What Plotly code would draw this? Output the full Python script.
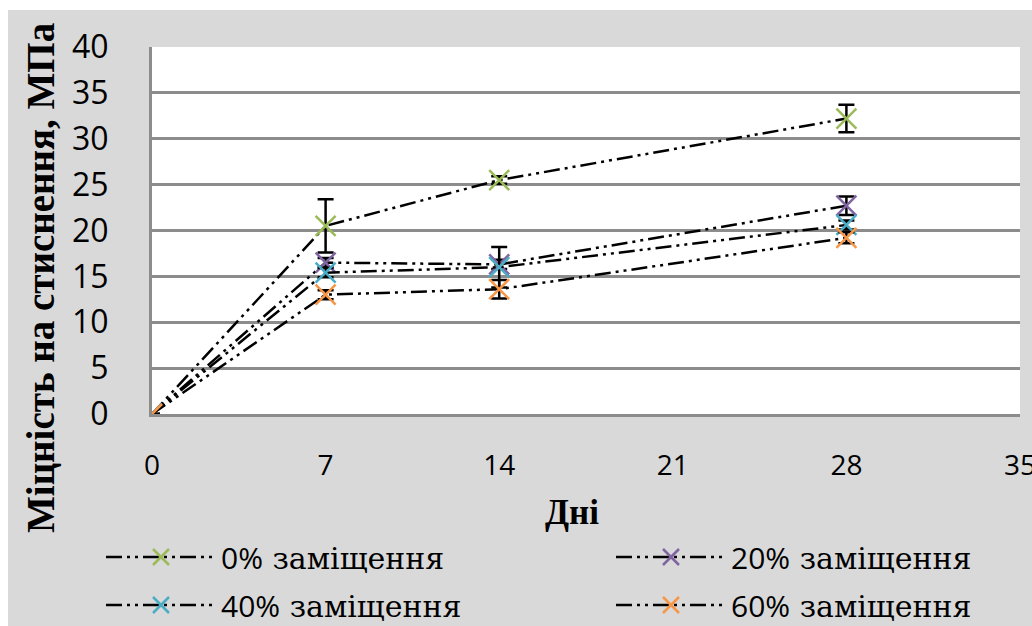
import plotly.graph_objects as go

# Compressive strength of mixes vs. curing age
days = [0, 7, 14, 28]

labels = ["0%", "20%", "40%", "60%"]
strength_0 = [0, 20.5, 25.5, 32.2]
strength_20 = [0, 16.5, 16.3, 22.7]
strength_40 = [0, 15.4, 16.0, 20.6]
strength_60 = [0, 13.0, 13.6, 19.2]

error_0 = [0, 2.9, 0.4, 1.5]
error_20 = [0, 0.5, 0.5, 1.0]
error_40 = [0, 0.5, 2.2, 0.5]
error_60 = [0, 0.5, 1.0, 0.6]

x_ticks = [0, 7, 14, 21, 28, 35]
y_ticks = [0, 5, 10, 15, 20, 25, 30, 35, 40]

colors = ["#9bbb59", "#8064a2", "#4bacc6", "#f79646"]
series = [strength_0, strength_20, strength_40, strength_60]
errors = [error_0, error_20, error_40, error_60]

SANS = "Open Sans"
SERIF = "Liberation Serif"
WIDE_SERIF = "DejaVu Serif"

L, R, T, B = 152, 12, 47, 212
W, H = 1032, 626
pw, ph = W - L - R, H - T - B


def px_x(p):
    return (p - L) / pw


def px_y(p):
    return (H - B - p) / ph


# one legend box per entry, laid out as a 2x2 grid below the axes
legend_ids = ["legend", "legend2", "legend3", "legend4"]
legend_pos = [(101, 557), (611, 557), (101, 605), (611, 605)]

fig = go.Figure()
for name, ys, errs, col, lid in zip(labels, series, errors, colors, legend_ids):
    fig.add_trace(go.Scatter(
        x=days, y=ys,
        mode="lines+markers",
        name=(f'<span style="font-family:{SANS}">{name}</span>'
              f'<span style="font-family:{WIDE_SERIF}"> заміщення</span>'),
        legend=lid,
        line=dict(color="black", width=2.5, dash="16px,5px,3px,5px,3px,5px"),
        marker=dict(symbol="x-thin-open", size=20, color=col,
                    line=dict(color=col, width=2.5)),
        error_y=dict(type="data", array=errs, visible=True,
                     color="black", thickness=2.5, width=8),
    ))

legend_style = dict(
    xanchor="left", yanchor="middle", itemwidth=110,
    font=dict(family=WIDE_SERIF, size=30, color="black"),
    bgcolor="rgba(0,0,0,0)", borderwidth=0,
)
legend_layout = {}
for lid, (lx, ly) in zip(legend_ids, legend_pos):
    legend_layout[lid] = dict(x=px_x(lx), y=px_y(ly), **legend_style)

fig.update_layout(
    width=W, height=H,
    margin=dict(l=L, r=R, t=T, b=B, autoexpand=False),
    paper_bgcolor="white",
    plot_bgcolor="white",
    showlegend=True,
    shapes=[
        dict(type="rect", xref="paper", yref="paper", layer="below",
             x0=px_x(8), x1=px_x(W + 2), y0=px_y(H + 2), y1=px_y(10),
             fillcolor="#d9d9d9", line=dict(width=0)),
        dict(type="rect", xref="paper", yref="paper", layer="below",
             x0=0, x1=1, y0=0, y1=1,
             fillcolor="white", line=dict(width=0)),
    ],
    xaxis=dict(
        range=[0, 35], tickvals=x_ticks, showgrid=False, zeroline=False,
        showline=True, linecolor="#8c8c8c", linewidth=3,
        tickfont=dict(family=SANS, size=28, color="black"),
        ticklabelstandoff=24, ticklabeloverflow="allow",
    ),
    yaxis=dict(
        range=[0, 40], tickvals=y_ticks, showgrid=True, gridcolor="#8c8c8c",
        gridwidth=2.5, zeroline=False,
        showline=True, linecolor="#8c8c8c", linewidth=3,
        tickfont=dict(family=SANS, size=32, color="black"),
        ticklabelstandoff=34,
    ),
    annotations=[
        dict(text="<b>Дні</b>", xref="paper", yref="paper",
             x=px_x(572), y=px_y(512), xanchor="center", yanchor="middle",
             showarrow=False,
             font=dict(family=SERIF, size=35, color="black")),
        dict(text="<b>Міцність на стиснення, МПа</b>", xref="paper", yref="paper",
             x=px_x(40), y=px_y(278), xanchor="center", yanchor="middle",
             textangle=-90, showarrow=False,
             font=dict(family=SERIF, size=39, color="black")),
    ],
    **legend_layout,
)

fig.write_html("out.html")
